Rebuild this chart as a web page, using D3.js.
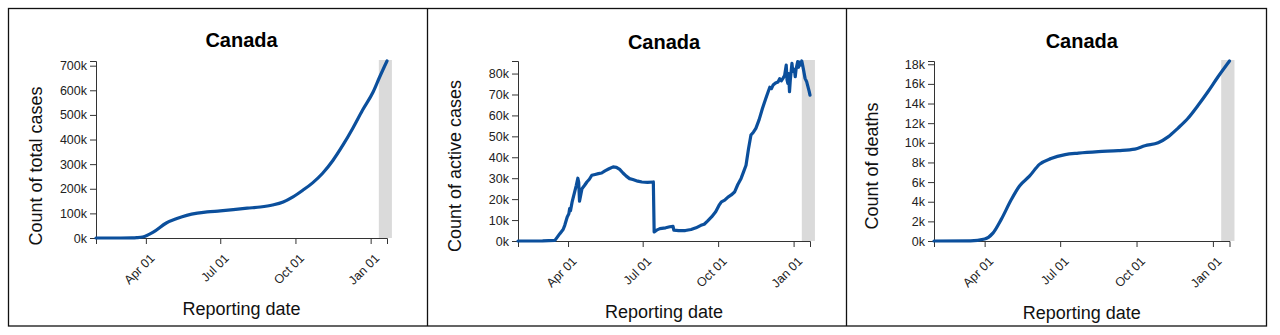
<!DOCTYPE html>
<html>
<head>
<meta charset="utf-8">
<script src="https://cdn.jsdelivr.net/npm/d3@7"></script>
<style>
  html, body { margin: 0; padding: 0; background: #fff; }
  svg { display: block; font-family: "Liberation Sans", Arial, sans-serif; }
  .tick text { font-size: 12.5px; fill: #222; }
  .domain, .tick line { stroke: #333; }
</style>
</head>
<body>
<svg id="chart" width="1280" height="335"></svg>
<script>
// ---------- DATA ----------
const country = "Canada";
const xLabel = "Reporting date";
const dateStart = "2020-01-31";
const dateEnd = "2021-01-21";
const shadeStart = "2021-01-11";
const shadeEnd = "2021-01-27";
const xTickDates = ["2020-04-01", "2020-07-01", "2020-10-01", "2021-01-01"];

const totalLabel = "Count of total cases";
const totalDates = ["2020-01-31","2020-03-01","2020-03-15","2020-03-21","2020-03-28","2020-04-10","2020-04-26","2020-05-09","2020-05-21","2020-06-03","2020-06-15","2020-07-01","2020-07-17","2020-08-03","2020-08-19","2020-09-03","2020-09-16","2020-09-28","2020-10-10","2020-10-22","2020-11-03","2020-11-16","2020-11-28","2020-12-10","2020-12-22","2021-01-04","2021-01-12","2021-01-21"];
const totalValues = [0,30,300,1200,4000,24000,61000,79000,92000,101000,106000,110000,115000,121000,126000,134000,146000,167000,194000,224000,262000,316000,377000,445000,519000,593000,654000,719000];
const totalTicks = [0,100000,200000,300000,400000,500000,600000,700000];

const activeLabel = "Count of active cases";
const activeDates = ["2020-01-31","2020-03-01","2020-03-16","2020-03-22","2020-03-26","2020-03-28","2020-03-31","2020-04-02","2020-04-03","2020-04-04","2020-04-06","2020-04-09","2020-04-11","2020-04-13","2020-04-14","2020-04-15","2020-04-18","2020-04-21","2020-04-24","2020-04-27","2020-04-30","2020-05-04","2020-05-08","2020-05-12","2020-05-16","2020-05-21","2020-05-26","2020-05-30","2020-06-03","2020-06-07","2020-06-11","2020-06-15","2020-06-19","2020-06-25","2020-06-30","2020-07-07","2020-07-14","2020-07-15","2020-07-18","2020-07-22","2020-07-29","2020-08-03","2020-08-07","2020-08-08","2020-08-14","2020-08-22","2020-08-29","2020-09-04","2020-09-10","2020-09-14","2020-09-18","2020-09-23","2020-09-28","2020-10-02","2020-10-05","2020-10-09","2020-10-13","2020-10-17","2020-10-21","2020-10-25","2020-10-29","2020-11-01","2020-11-04","2020-11-07","2020-11-10","2020-11-13","2020-11-16","2020-11-20","2020-11-24","2020-11-28","2020-12-01","2020-12-03","2020-12-05","2020-12-07","2020-12-10","2020-12-13","2020-12-15","2020-12-17","2020-12-19","2020-12-21","2020-12-23","2020-12-24","2020-12-25","2020-12-26","2020-12-27","2020-12-28","2020-12-30","2020-12-31","2021-01-02","2021-01-03","2021-01-04","2021-01-06","2021-01-07","2021-01-08","2021-01-09","2021-01-10","2021-01-11","2021-01-13","2021-01-15","2021-01-17","2021-01-18","2021-01-20","2021-01-21"];
const activeValues = [0,20,300,3500,5500,7500,11500,13000,15500,14500,18700,23400,26500,30000,28000,19000,25000,26500,28200,29500,31400,31800,32200,32500,33500,34500,35400,35200,34200,32500,31000,29800,29400,28600,28200,28000,28200,4300,5200,5900,6300,6800,7000,5200,5000,5000,5500,6300,7500,8000,9500,11500,14000,17000,18700,19500,21000,22000,23400,27000,29900,33000,36200,44000,50600,52000,53800,58000,63300,68000,71300,73500,72800,74500,75500,76000,77500,76500,77700,79000,84000,77000,75300,80000,71300,77000,84900,81000,82000,78500,82000,85700,83000,85500,84000,84500,86000,82000,77700,76000,74500,71500,69700];
const activeTicks = [0,10000,20000,30000,40000,50000,60000,70000,80000];

const deathLabel = "Count of deaths";
const deathDates = ["2020-01-31","2020-03-15","2020-04-01","2020-04-11","2020-04-21","2020-05-03","2020-05-13","2020-05-25","2020-06-06","2020-06-20","2020-07-07","2020-07-23","2020-08-16","2020-09-09","2020-09-29","2020-10-11","2020-10-27","2020-11-08","2020-11-20","2020-12-02","2020-12-14","2020-12-26","2021-01-07","2021-01-21"];
const deathValues = [0,10,200,800,2200,4200,5600,6600,7800,8400,8800,8950,9100,9200,9350,9700,10000,10600,11500,12500,13800,15200,16700,18330];
const deathTicks = [0,2000,4000,6000,8000,10000,12000,14000,16000,18000];

// ---------- LAYOUT ----------
const parse = d3.timeParse("%Y-%m-%d");
const svg = d3.select("#chart");

const panels = [
  { x0: 96, x1: 387, yTop: 61, yBase: 238, titleY: 47, labelX: 41.5, xLabelY: 314.5,
    dates: totalDates, values: totalValues, ticks: totalTicks, yLabel: totalLabel, curve: d3.curveMonotoneX },
  { x0: 518, x1: 810, yTop: 61, yBase: 241, titleY: 48.5, labelX: 461, xLabelY: 318,
    dates: activeDates, values: activeValues, ticks: activeTicks, yLabel: activeLabel, curve: d3.curveLinear },
  { x0: 934, x1: 1229.5, yTop: 61, yBase: 241, titleY: 47.5, labelX: 878, xLabelY: 319,
    dates: deathDates, values: deathValues, ticks: deathTicks, yLabel: deathLabel, curve: d3.curveMonotoneX }
];

// frames
svg.append("rect")
  .attr("x", 8.5).attr("y", 8.5).attr("width", 1258).attr("height", 317.5)
  .attr("fill", "none").attr("stroke", "#111").attr("stroke-width", 1.3);
[427.5, 846.5].forEach(xv => {
  svg.append("line").attr("x1", xv).attr("x2", xv).attr("y1", 8.5).attr("y2", 326)
    .attr("stroke", "#111").attr("stroke-width", 1.3);
});

panels.forEach(p => {
  const g = svg.append("g");
  const x = d3.scaleTime()
    .domain([parse(dateStart), parse(dateEnd)])
    .range([p.x0, p.x1]);
  const y = d3.scaleLinear()
    .domain([0, d3.max(p.values)])
    .range([p.yBase, p.yTop]);

  // shaded recent-period band
  g.append("rect")
    .attr("x", x(parse(shadeStart)))
    .attr("y", y(d3.max(p.values)) - 1)
    .attr("width", x(parse(shadeEnd)) - x(parse(shadeStart)))
    .attr("height", y(0) - y(d3.max(p.values)) + 1)
    .attr("fill", "#dadada");

  // x axis
  const xAxis = g.append("g")
    .attr("transform", `translate(0,${p.yBase})`)
    .call(d3.axisBottom(x)
      .tickValues(xTickDates.map(parse))
      .tickFormat(d3.timeFormat("%b %d"))
      .tickSize(6));
  xAxis.selectAll(".tick text")
    .attr("x", 0).attr("y", 0).attr("dy", 0)
    .style("text-anchor", "end")
    .attr("transform", "translate(9,21) rotate(-45)");

  // y axis
  g.append("g")
    .attr("transform", `translate(${p.x0},0)`)
    .call(d3.axisLeft(y)
      .tickValues(p.ticks)
      .tickFormat(d => (d / 1000) + "k")
      .tickSize(6));

  g.selectAll(".domain").attr("stroke", "#333");

  // line
  const line = d3.line()
    .x((d, i) => x(parse(p.dates[i])))
    .y(d => y(d))
    .curve(p.curve);
  g.append("path")
    .datum(p.values)
    .attr("d", line)
    .attr("fill", "none")
    .attr("stroke", "#0b4f9c")
    .attr("stroke-width", 3.2)
    .attr("stroke-linejoin", "round")
    .attr("stroke-linecap", "round");

  const cx = (p.x0 + p.x1) / 2;
  // title
  g.append("text")
    .attr("x", cx).attr("y", p.titleY)
    .attr("text-anchor", "middle")
    .style("font-size", "20px").style("font-weight", "bold").attr("fill", "#000")
    .text(country);

  // x label
  g.append("text")
    .attr("x", cx).attr("y", p.xLabelY)
    .attr("text-anchor", "middle")
    .style("font-size", "18px").attr("fill", "#111")
    .text(xLabel);

  // y label
  g.append("text")
    .attr("transform", `translate(${p.labelX},166) rotate(-90)`)
    .attr("text-anchor", "middle")
    .style("font-size", "18px").attr("fill", "#111")
    .text(p.yLabel);
});
</script>
</body>
</html>
